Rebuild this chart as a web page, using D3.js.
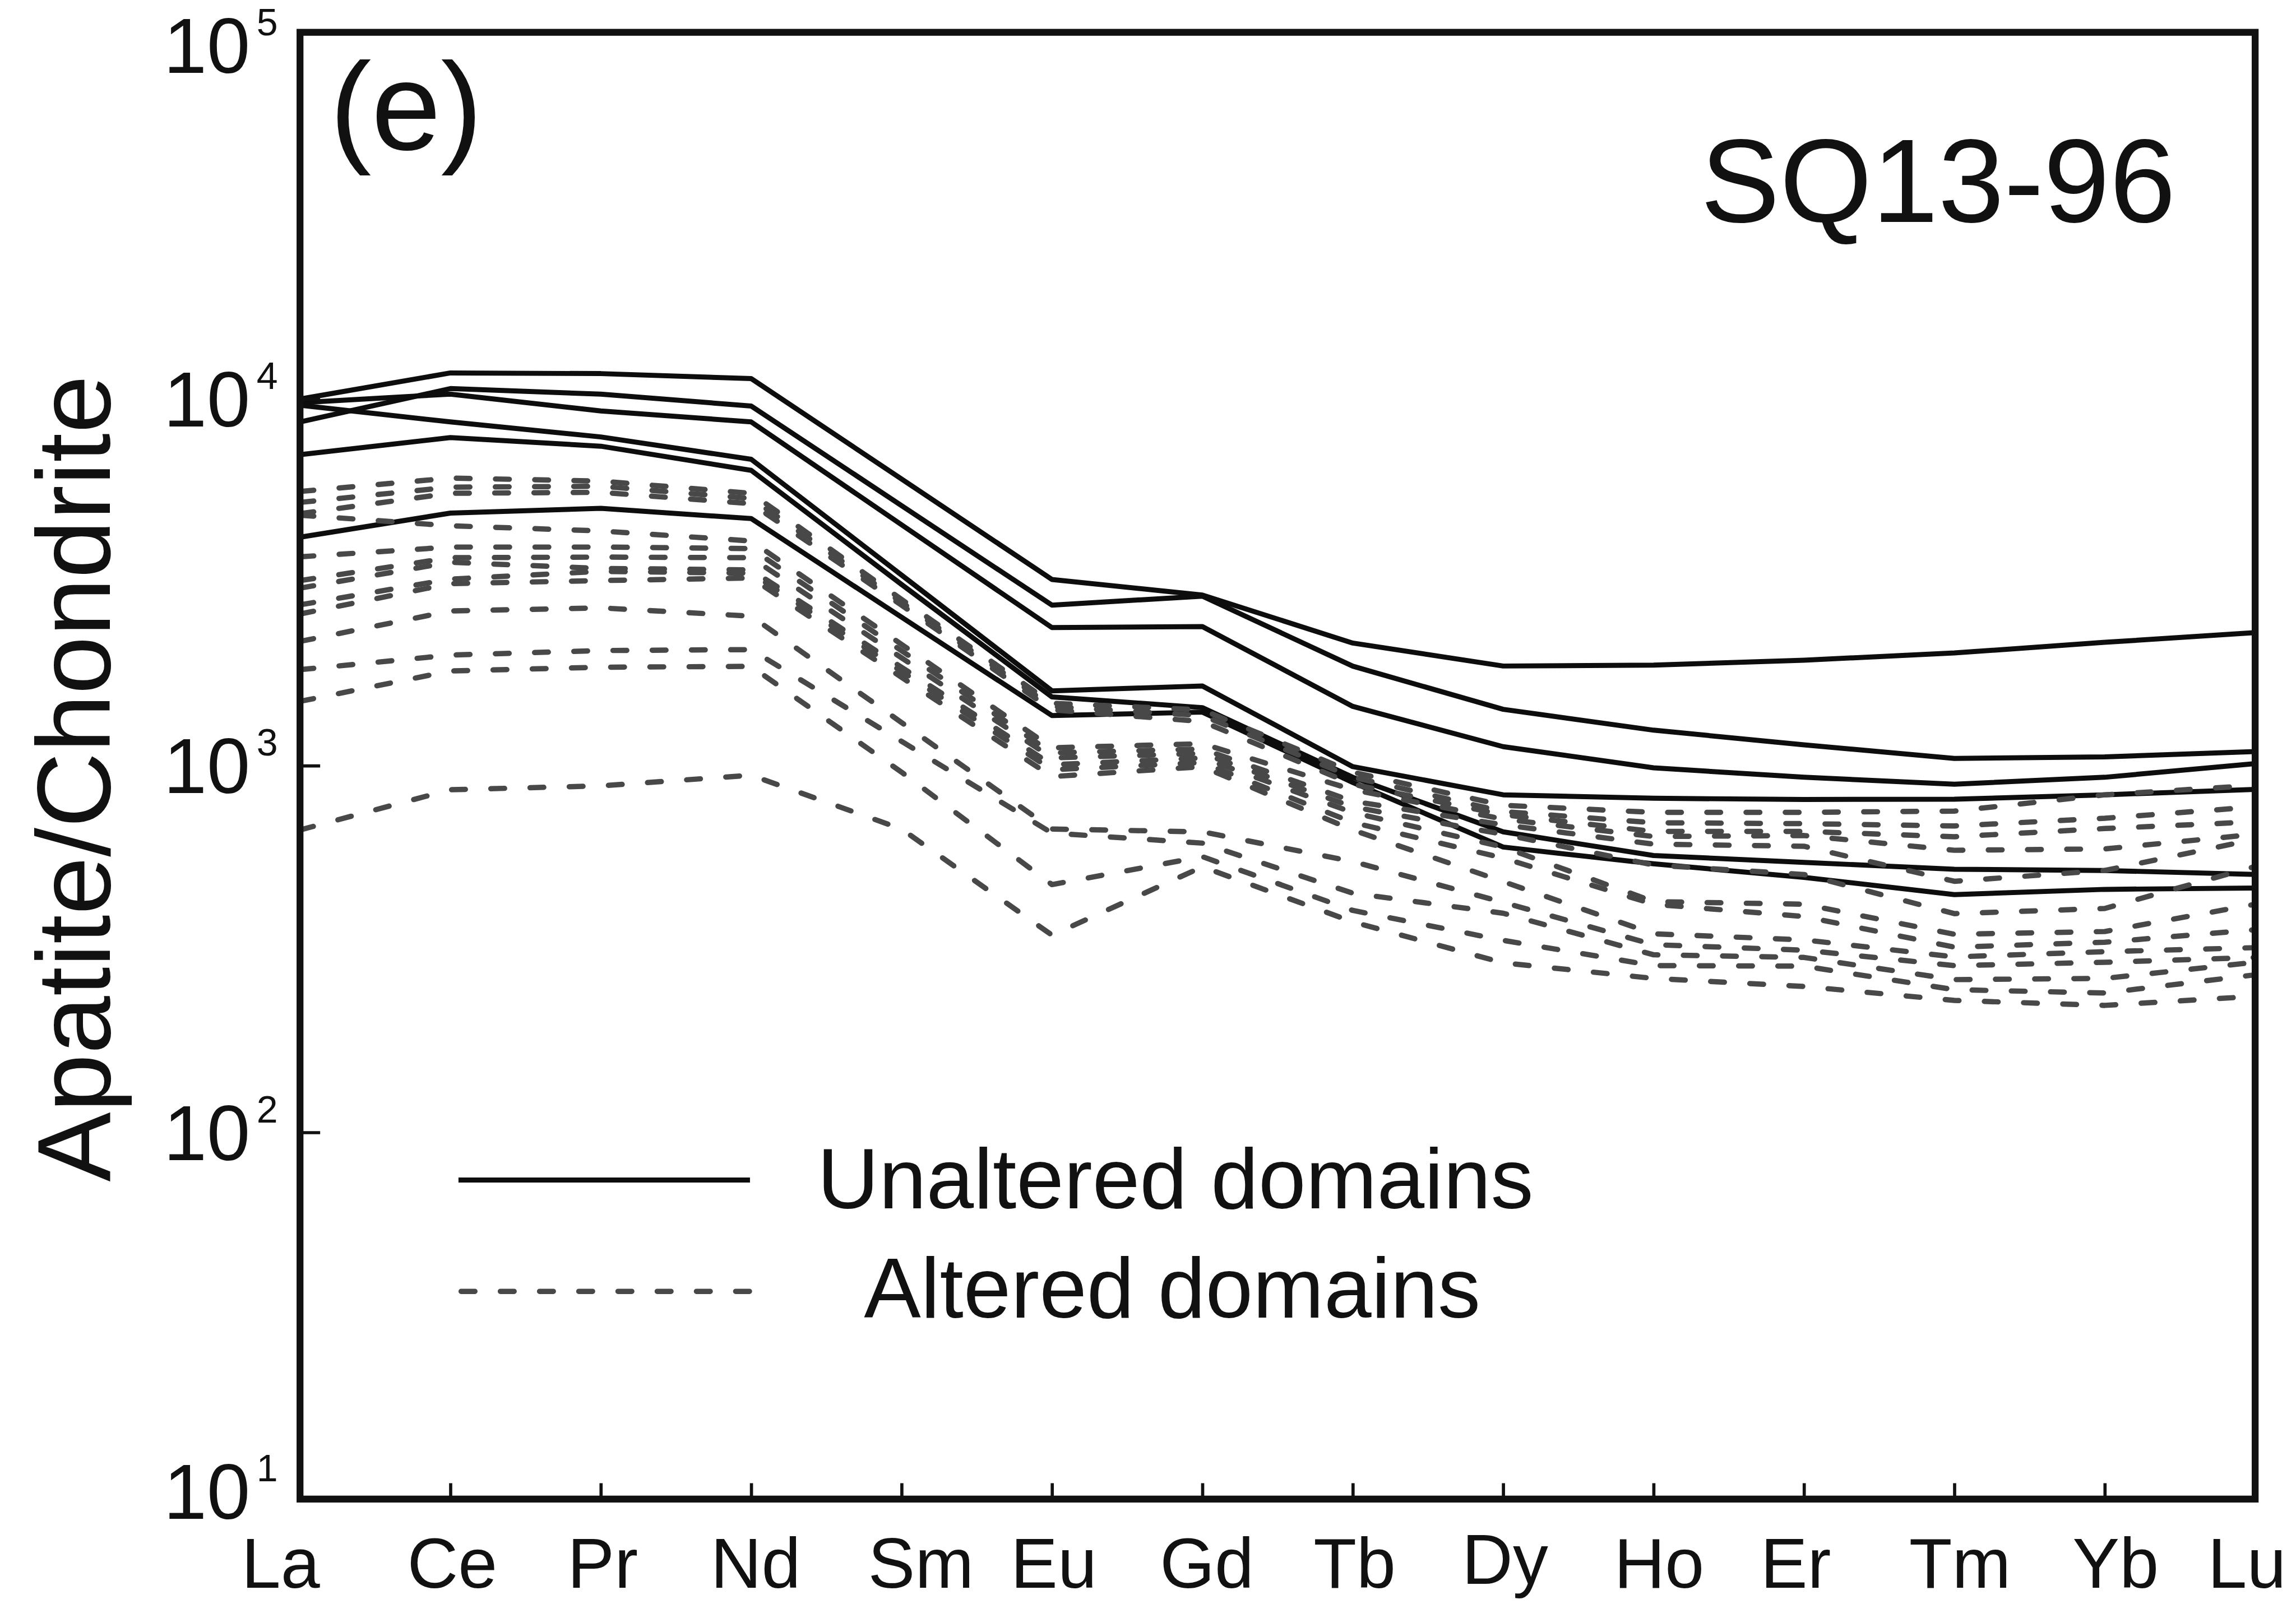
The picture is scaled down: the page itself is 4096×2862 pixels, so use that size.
<!DOCTYPE html>
<html>
<head>
<meta charset="utf-8">
<script src="https://cdn.jsdelivr.net/npm/d3@7/dist/d3.min.js"></script>
<style>
  html, body { margin: 0; padding: 0; background: #fff; }
  svg { display: block; }
  text { font-family: "Liberation Sans", Arial, Helvetica, sans-serif; fill: #111; }
</style>
</head>
<body>
<svg id="chart" width="4096" height="2862" viewBox="0 0 4332 3027"></svg>
<script>
// Chondrite-normalised REE patterns of apatite, sample SQ13-96
const elements = ["La", "Ce", "Pr", "Nd", "Sm", "Eu", "Gd", "Tb", "Dy", "Ho", "Er", "Tm", "Yb", "Lu"];

// Unaltered domains (solid lines)
const unaltered1 = [10000, 11780, 11730, 11370, 6050, 3220, 2920, 2160, 1870, 1880, 1940, 2030, 2170, 2307];
const unaltered2 = [8660, 10680, 10310, 9570, 5120, 2740, 2900, 1868, 1425, 1250, 1140, 1047, 1057, 1093];
const unaltered3 = [9775, 10310, 9280, 8660, 4540, 2380, 2396, 1451, 1127, 987, 930, 890, 930, 1013];
const unaltered4 = [9620, 8660, 7880, 6850, 3310, 1600, 1650, 994, 833, 815, 809, 810, 833, 862];
const unaltered5 = [7050, 7850, 7435, 6390, 3120, 1540, 1440, 930, 660, 569, 545, 522, 518, 505];
const unaltered6 = [4200, 4885, 5035, 4720, 2540, 1370, 1400, 900, 600, 540, 496, 445, 460, 464];

// Altered domains (dashed lines)
const altered1  = [5597, 6087, 5972, 5533, 2840, 1480, 1420, 960, 780, 746, 746, 752, 833, 884];
const altered2  = [5225, 5749, 5782, 5356, 2790, 1450, 1370, 930, 750, 699, 695, 685, 719, 772];
const altered3  = [4868, 5533, 5565, 5185, 2740, 1420, 1320, 890, 735, 662, 662, 640, 674, 703];
const altered4  = [4822, 4511, 4367, 4101, 2142, 1119, 1148, 860, 715, 641, 645, 588, 593, 650];
const altered5  = [3713, 3947, 3947, 3909, 2058, 1084, 1110, 800, 690, 611, 603, 484, 518, 630];
const altered6  = [3198, 3692, 3706, 3692, 1969, 1050, 1080, 772, 650, 536, 505, 395, 408, 531];
const altered7  = [3050, 3587, 3452, 3420, 1855, 1006, 1050, 745, 600, 426, 419, 347, 353, 419];
const altered8  = [2746, 3228, 3388, 3350, 1807, 975, 1020, 700, 560, 419, 388, 320, 330, 357];
const altered9  = [2593, 3138, 3198, 3250, 1742, 934, 994, 668, 483, 348, 335, 301, 311, 319];
const altered10 = [2183, 2642, 2694, 2558, 1311, 672, 660, 548, 424, 325, 314, 285, 291, 300];
const altered11 = [1828, 2003, 2061, 2073, 1165, 655, 615, 449, 396, 305, 300, 261, 263, 291];
const altered12 = [1498, 1813, 1856, 1866, 960, 474, 565, 403, 334, 285, 284, 245, 240, 269];
const altered13 = [668, 860, 881, 942, 672, 345, 530, 375, 290, 263, 250, 229, 222, 235];

const yTickValues = [10, 100, 1000, 10000, 100000];
const legendLabels = ["Unaltered domains", "Altered domains"];
const sampleName = "SQ13-96";
const panelLabel = "(e)";
const yTitle = "Apatite/Chondrite";

const unalteredSeries = [unaltered1, unaltered2, unaltered3, unaltered4, unaltered5, unaltered6];
const alteredSeries = [altered1, altered2, altered3, altered4, altered5, altered6, altered7,
                       altered8, altered9, altered10, altered11, altered12, altered13];

// ---- layout ----
const plot = { left: 566, right: 4255, top: 61, bottom: 2829 };
const svg = d3.select("#chart");

const x = d3.scalePoint().domain(elements).range([plot.left, plot.right]);
const y = d3.scaleLog().domain([10, 100000]).range([plot.bottom, plot.top]);

const line = d3.line()
  .x((d, i) => x(elements[i]))
  .y(d => y(d));

const solidStyle = { stroke: "#0d0d0d", width: 9.5 };
const dashStyle = { stroke: "#484848", width: 10, dash: "26,48" };

// Unaltered patterns
svg.append("g").selectAll("path")
  .data(unalteredSeries)
  .join("path")
  .attr("d", line)
  .attr("fill", "none")
  .attr("stroke", solidStyle.stroke)
  .attr("stroke-width", solidStyle.width)
  .attr("stroke-linejoin", "round");

// Altered patterns
svg.append("g").selectAll("path")
  .data(alteredSeries)
  .join("path")
  .attr("d", line)
  .attr("fill", "none")
  .attr("stroke", dashStyle.stroke)
  .attr("stroke-width", dashStyle.width)
  .attr("stroke-dasharray", dashStyle.dash)
  .attr("stroke-linecap", "round")
  .attr("stroke-linejoin", "round");

// ---- axes ----
// bottom axis: inward ticks, labels below
const xAxis = d3.axisBottom(x).tickSize(0).tickPadding(0);
const gx = svg.append("g").attr("transform", `translate(0,${plot.bottom})`).call(xAxis);
gx.select(".domain").remove();
const labelNudge = { La: -37, Sm: 36, Nd: 8, Gd: 8, Ho: 10, Er: -16, Tm: 10, Yb: 20, Lu: -16 };
const labelDrop = { Dy: 160 };
gx.selectAll(".tick text")
  .attr("y", 0)
  .attr("dy", 0)
  .attr("transform", d => `translate(${labelNudge[d] || 3},${labelDrop[d] || 167})`)
  .attr("font-size", 133)
  .attr("fill", "#111")
  .style("font-family", "'Liberation Sans', Arial, sans-serif");
gx.selectAll(".tick").filter(d => d !== elements[0] && d !== elements[elements.length - 1])
  .append("line")
  .attr("y1", 0).attr("y2", -30)
  .attr("stroke", "#111").attr("stroke-width", 6);

// left axis: inward ticks at decades, labels as powers of ten
const yAxis = d3.axisLeft(y).tickValues(yTickValues).tickSize(0).tickFormat("");
const gy = svg.append("g").attr("transform", `translate(${plot.left},0)`).call(yAxis);
gy.select(".domain").remove();
gy.selectAll(".tick text").remove();
gy.selectAll(".tick").filter(d => d > 10 && d < 100000)
  .append("line")
  .attr("x1", 0).attr("x2", 38)
  .attr("stroke", "#111").attr("stroke-width", 6);

const yLabels = svg.append("g");
yTickValues.forEach(v => {
  const base = Math.min(Math.max(y(v) + 52, 138), 2866);
  yLabels.append("text")
    .attr("x", 472).attr("y", base)
    .attr("text-anchor", "end")
    .attr("font-size", 147)
    .text("10");
  yLabels.append("text")
    .attr("x", 484).attr("y", base - 71)
    .attr("font-size", 72)
    .text(String(Math.round(Math.log10(v))));
});

// frame
svg.append("rect")
  .attr("x", plot.left).attr("y", plot.top)
  .attr("width", plot.right - plot.left).attr("height", plot.bottom - plot.top)
  .attr("fill", "none").attr("stroke", "#111").attr("stroke-width", 13);

// y title
svg.append("text")
  .attr("transform", `translate(207,1469) rotate(-90)`)
  .attr("text-anchor", "middle")
  .attr("font-size", 197)
  .text(yTitle);

// panel label and sample name
svg.append("text").attr("x", 622).attr("y", 282).attr("font-size", 236).text(panelLabel);
svg.append("text").attr("x", 4105).attr("y", 419).attr("text-anchor", "end").attr("font-size", 224).text(sampleName);

// legend
const legend = svg.append("g");
legend.append("line")
  .attr("x1", 865).attr("x2", 1415).attr("y1", 2227).attr("y2", 2227)
  .attr("stroke", solidStyle.stroke).attr("stroke-width", solidStyle.width);
legend.append("line")
  .attr("x1", 870).attr("x2", 1415).attr("y1", 2437).attr("y2", 2437)
  .attr("stroke", dashStyle.stroke).attr("stroke-width", dashStyle.width)
  .attr("stroke-dasharray", dashStyle.dash).attr("stroke-linecap", "round");
legend.append("text").attr("x", 1542).attr("y", 2280).attr("font-size", 161).text(legendLabels[0]);
legend.append("text").attr("x", 1630).attr("y", 2487).attr("font-size", 161).text(legendLabels[1]);
</script>
</body>
</html>
